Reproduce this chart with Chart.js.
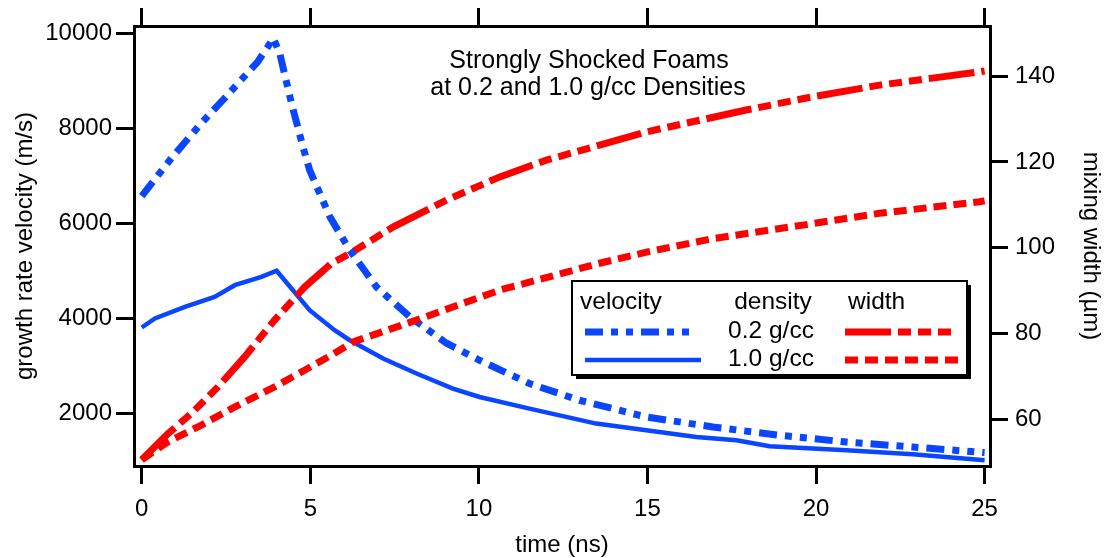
<!DOCTYPE html>
<html>
<head>
<meta charset="utf-8">
<script src="https://cdn.jsdelivr.net/npm/chart.js@4.4.0/dist/chart.umd.min.js"></script>
<style>
  html, body { margin: 0; padding: 0; background: #fff; }
  #wrap { width: 1106px; height: 558px; }
</style>
</head>
<body>
<div id="wrap"><canvas id="myChart" width="1106" height="558"></canvas></div>
<script>
// values (time in ns, velocity in m/s, width in um)
const time02Vel = [0, 0.88, 1.77, 2.46, 3.44, 3.74, 3.9, 4.09, 4.44, 4.78, 4.98, 5.58, 6.17, 6.96, 7.95, 9.04, 10.02, 11.5, 12.98, 14.97, 16.94, 18.92, 20.9, 22.87, 24.75, 25];
const vel02 = [6575, 7375, 8112, 8638, 9402, 9718, 9900, 9585, 8533, 7613, 7122, 6139, 5438, 4665, 4034, 3480, 3122, 2632, 2280, 1928, 1718, 1543, 1402, 1297, 1192, 1180];

const time10Vel = [0, 0.39, 1.28, 2.16, 2.76, 3.55, 4.0, 4.98, 5.72, 6.17, 7.16, 8.15, 9.23, 10.02, 11.5, 13.48, 16.45, 17.64, 18.62, 20.9, 22.87, 25];
const vel10 = [3811, 4000, 4244, 4455, 4701, 4876, 5006, 4175, 3754, 3543, 3158, 2842, 2526, 2349, 2105, 1789, 1507, 1438, 1312, 1228, 1143, 1020];

const time02Wid = [0, 0.78, 1.47, 2.26, 3.05, 3.94, 4.83, 5.62, 6.17, 7.45, 9.04, 10.62, 12.0, 14.97, 17.93, 19.9, 21.88, 24.85, 25];
const wid02 = [50.5, 56.6, 61.3, 67.5, 74.5, 83.1, 90.8, 96.3, 98.6, 104.8, 111.1, 116.5, 120.4, 127.0, 132.1, 135.2, 137.9, 141.0, 141.2];

const time10Wid = [0, 0.78, 1.77, 2.75, 3.94, 4.83, 5.62, 6.27, 8.15, 10.62, 12, 13.5, 15, 16.94, 19.9, 21.88, 24.85, 25];
const wid10 = [50.5, 54.7, 58.6, 62.8, 67.5, 71.4, 74.9, 78.0, 83.1, 90.1, 93.0, 96.2, 99.0, 102.1, 105.6, 108.0, 110.7, 110.9];

const timeTicks = [0, 5, 10, 15, 20, 25];
const velTicks = [2000, 4000, 6000, 8000, 10000];
const widTicks = [60, 80, 100, 120, 140];

const titleLines = ['Strongly Shocked Foams', 'at 0.2 and 1.0 g/cc Densities'];
const legendHeaders = ['velocity', 'density', 'width'];
const densityLabels = ['0.2 g/cc', '1.0 g/cc'];

const FONT = '"Liberation Sans", Arial, Helvetica, sans-serif';
const BLUE = '#0a45ff';
const RED = '#ff0000';

const toPoints = (xs, ys) => xs.map((x, i) => ({ x: x, y: ys[i] }));
// plain numbers, no thousands separator
const plain = v => String(v);

const tickGrid = {
  display: true, drawOnChartArea: false, drawTicks: true,
  tickLength: 18, tickWidth: 3, tickColor: '#000', color: '#000', lineWidth: 3
};
const frameBorder = { display: true, width: 3, color: '#000' };
const tickFont = { family: FONT, size: 24 };

// legend box + title drawn inside the plot area
const overlayPlugin = {
  id: 'overlay',
  afterDraw(chart) {
    const ctx = chart.ctx;
    const ds = chart.data.datasets;
    ctx.save();
    ctx.fillStyle = '#000';
    ctx.font = '25px ' + FONT;
    ctx.textAlign = 'center';
    ctx.textBaseline = 'alphabetic';
    ctx.fillText(titleLines[0], 589, 68);
    ctx.fillText(titleLines[1], 588, 95);

    // box with drop shadow
    const bx = 572, by = 281, bw = 395, bh = 94;
    ctx.fillStyle = '#000';
    ctx.fillRect(bx + 4, by + 4, bw, bh);
    ctx.fillStyle = '#fff';
    ctx.fillRect(bx, by, bw, bh);
    ctx.lineWidth = 2;
    ctx.strokeStyle = '#000';
    ctx.strokeRect(bx, by, bw, bh);

    ctx.fillStyle = '#000';
    ctx.font = '24.5px ' + FONT;
    ctx.textAlign = 'left';
    ctx.fillText(legendHeaders[0], 580, 309);
    ctx.textAlign = 'center';
    ctx.fillText(legendHeaders[1], 773, 309);
    ctx.textAlign = 'left';
    ctx.fillText(legendHeaders[2], 848, 309);
    ctx.textAlign = 'center';
    ctx.fillText(densityLabels[0], 771, 338);
    ctx.fillText(densityLabels[1], 771, 366);

    const sample = (d, x1, x2, y) => {
      ctx.beginPath();
      ctx.setLineDash(d.borderDash || []);
      ctx.lineDashOffset = 0;
      ctx.lineCap = 'butt';
      ctx.lineWidth = d.borderWidth;
      ctx.strokeStyle = d.borderColor;
      ctx.moveTo(x1, y);
      ctx.lineTo(x2, y);
      ctx.stroke();
    };
    sample(ds[0], 585, 691, 332);
    sample(ds[1], 585, 701, 360);
    sample(ds[2], 845, 957, 332);
    sample(ds[3], 845, 963, 360);
    ctx.restore();
  }
};

new Chart(document.getElementById('myChart'), {
  type: 'line',
  data: {
    datasets: [
      { label: 'velocity 0.2 g/cc', data: toPoints(time02Vel, vel02), yAxisID: 'yL',
        borderColor: BLUE, borderWidth: 7, borderDash: [18, 8, 7, 8, 7, 8], order: 2 },
      { label: 'velocity 1.0 g/cc', data: toPoints(time10Vel, vel10), yAxisID: 'yL',
        borderColor: BLUE, borderWidth: 4.5, order: 4 },
      { label: 'width 0.2 g/cc', data: toPoints(time02Wid, wid02), yAxisID: 'yR',
        borderColor: RED, borderWidth: 7, borderDash: [46, 7, 13, 7, 13, 7, 13, 7], order: 3 },
      { label: 'width 1.0 g/cc', data: toPoints(time10Wid, wid10), yAxisID: 'yR',
        borderColor: RED, borderWidth: 7, borderDash: [13, 7], order: 1 }
    ]
  },
  options: {
    responsive: false,
    animation: false,
    devicePixelRatio: 1,
    layout: { padding: 0 },
    elements: { point: { radius: 0 }, line: { tension: 0, fill: false, borderCapStyle: 'butt' } },
    plugins: { legend: { display: false }, tooltip: { enabled: false } },
    scales: {
      x: {
        type: 'linear', position: 'bottom', min: -0.23, max: 25.16,
        afterBuildTicks: s => { s.ticks = timeTicks.map(v => ({ value: v })); },
        afterFit: s => { s.height = 92; },
        grid: tickGrid, border: frameBorder,
        ticks: { font: tickFont, color: '#000', padding: 11, maxRotation: 0, autoSkip: false, callback: plain },
        title: { display: true, text: 'time (ns)', color: '#000',
                 font: { family: FONT, size: 24, lineHeight: 1 }, padding: { top: 0, bottom: 1 } }
      },
      xTop: {
        type: 'linear', position: 'top', min: -0.23, max: 25.16,
        afterBuildTicks: s => { s.ticks = timeTicks.map(v => ({ value: v })); },
        afterFit: s => { s.height = 26; },
        grid: tickGrid, border: frameBorder,
        ticks: { display: false }
      },
      yL: {
        type: 'linear', position: 'left', min: 897, max: 10154,
        afterBuildTicks: s => { s.ticks = velTicks.map(v => ({ value: v })); },
        afterFit: s => { s.width = 134; },
        grid: tickGrid, border: frameBorder,
        ticks: { font: tickFont, color: '#000', padding: 4, callback: plain },
        title: { display: true, text: 'growth rate velocity (m/s)', color: '#000',
                 font: { family: FONT, size: 24, lineHeight: 1.2 }, padding: { top: 11, bottom: 0 } }
      },
      yR: {
        type: 'linear', position: 'right', min: 49.05, max: 151.7,
        afterBuildTicks: s => { s.ticks = widTicks.map(v => ({ value: v })); },
        afterFit: s => { s.width = 116; },
        grid: tickGrid, border: frameBorder,
        ticks: { font: tickFont, color: '#000', padding: 7, callback: plain },
        title: { display: true, text: 'mixing width (µm)', color: '#000',
                 font: { family: FONT, size: 24, lineHeight: 1.2 }, padding: { top: 1, bottom: 0 } }
      }
    }
  },
  plugins: [overlayPlugin]
});
</script>
</body>
</html>
